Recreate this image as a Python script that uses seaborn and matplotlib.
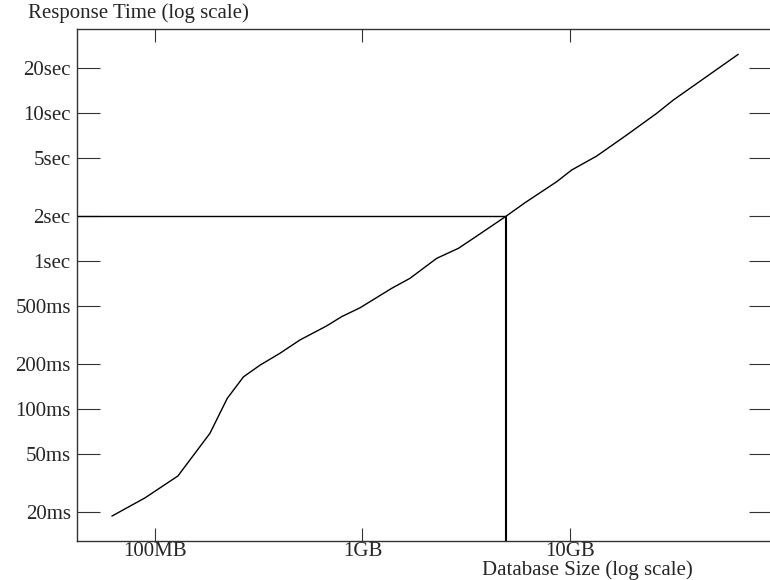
import matplotlib
matplotlib.use("Agg")
import matplotlib.pyplot as plt
import seaborn as sns

# database size (MB) vs response time (ms)
size_mb = [62, 89.5, 129, 184, 223, 267, 321, 400, 500, 671, 794, 973,
           1383, 1694, 2279, 2898, 3423, 4900, 6070, 8630, 10190, 13450,
           18760, 26170, 31480, 64700]
resp_ms = [18.9, 25.1, 35.3, 68.5, 118, 165, 198, 238, 293, 364, 421, 483,
           654, 764, 1043, 1218, 1423, 2000, 2477, 3435, 4120, 5120,
           7100, 9950, 12240, 24930]

# the 2 second marker
mark_mb = 4900
mark_ms = 2000

x_ticks = [100, 1000, 10000]
x_labels = ["100MB", "1GB", "10GB"]
y_ticks = [20, 50, 100, 200, 500, 1000, 2000, 5000, 10000, 20000]
y_labels = ["20ms", "50ms", "100ms", "200ms", "500ms", "1sec", "2sec", "5sec", "10sec", "20sec"]

sns.set_style("white")
plt.rcParams["font.family"] = ["Liberation Serif", "DejaVu Serif"]
plt.rcParams["font.size"] = 15

fig = plt.figure(figsize=(7.7, 5.8), dpi=100)
ax = fig.add_axes([0.1, 0.0672, 0.9026, 0.8828])

sns.lineplot(x=size_mb, y=resp_ms, color="black", linewidth=1, ax=ax)

ax.set_xscale("log")
ax.set_yscale("log")
xmin, xmax = 42.1, 94080
ymin, ymax = 12.83, 36950
ax.set_xlim(xmin, xmax)
ax.set_ylim(ymin, ymax)

ax.hlines(mark_ms, xmin, mark_mb, color="black", linewidth=1)
ax.vlines(mark_mb, ymin, mark_ms, color="black", linewidth=1.5)

ax.set_xticks(x_ticks)
ax.set_xticklabels(x_labels)
ax.set_yticks(y_ticks)
ax.set_yticklabels(y_labels)
ax.minorticks_off()

ax.tick_params(axis="y", which="major", direction="in", length=16.5, width=0.8,
               color="#333333", left=True, right=True, pad=4.5, labelsize=15)
ax.tick_params(axis="x", which="major", direction="in", length=9.4, width=0.8,
               color="#333333", bottom=True, top=True, pad=1, labelsize=15)

for side in ["left", "bottom", "top"]:
    ax.spines[side].set_color("#333333")
    ax.spines[side].set_linewidth(1)
ax.spines["right"].set_visible(False)

ax.set_ylabel("Response Time (log scale)", rotation=0, ha="left", va="center", fontsize=15)
ax.yaxis.set_label_coords(-0.0707, 1.031)
ax.set_xlabel("Database Size (log scale)", ha="center", va="center", fontsize=15)
ax.xaxis.set_label_coords(0.7345, -0.0566)

fig.savefig("out.png", dpi=100)
